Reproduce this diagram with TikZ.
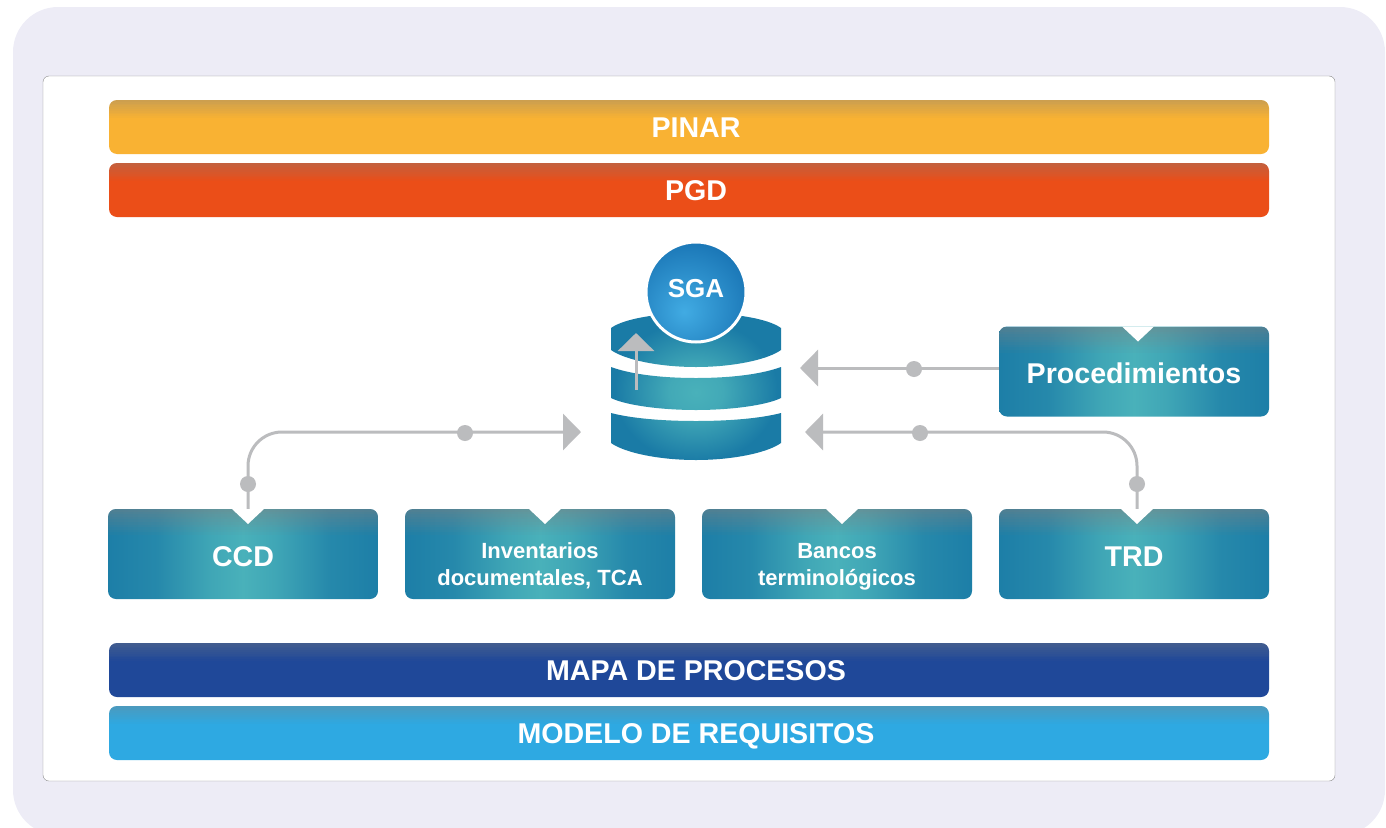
\documentclass[tikz,border=0pt]{standalone}
\usepackage{fontspec}
\setmainfont{Liberation Sans}
\usetikzlibrary{arrows.meta}

\definecolor{framecolor}{HTML}{EDECF6}
\definecolor{linecolor}{HTML}{BBBCBE}
\definecolor{pinarcolor}{HTML}{F9B233}
\definecolor{pgdcolor}{HTML}{EB4E18}
\definecolor{mapacolor}{HTML}{1F4899}
\definecolor{modelocolor}{HTML}{2EA9E2}
\definecolor{glowlight}{HTML}{49B1BA}
\definecolor{glowdark}{HTML}{1A7BA6}
\definecolor{sgalight}{HTML}{41ABE3}
\definecolor{sgadark}{HTML}{0F67A9}

\pgfdeclarehorizontalshading{tealglow}{100bp}{color(0bp)=(glowdark!90!glowlight); color(10bp)=(glowdark); color(22bp)=(glowdark); color(34bp)=(glowdark!75!glowlight); color(44bp)=(glowlight!80!glowdark); color(50bp)=(glowlight); color(56bp)=(glowlight!80!glowdark); color(66bp)=(glowdark!75!glowlight); color(78bp)=(glowdark); color(90bp)=(glowdark); color(100bp)=(glowdark!90!glowlight)}
\pgfdeclareradialshading{dbglow}{\pgfpoint{0bp}{-2bp}}{color(0bp)=(glowlight); color(8bp)=(glowlight!85!glowdark); color(24bp)=(glowdark); color(100bp)=(glowdark)}
\pgfdeclareradialshading{sgaglow}{\pgfpoint{-6bp}{-10bp}}{color(0bp)=(sgalight); color(42bp)=(sgadark); color(100bp)=(sgadark)}

% grey strips, fading out from the top edge of a box
\newcommand{\topsheen}[2]{
    \foreach \i [evaluate=\i as \op using {#1*(1-\i/10)}] in {0,...,9} {
        \fill[gray, sharp corners, opacity=\op] ([yshift=-\i*#2 pt]path picture bounding box.north west) rectangle ([yshift=-\i*#2 pt-#2 pt]path picture bounding box.north east);
    }
}

\tikzset{
    barbox/.style={minimum width=1160pt, minimum height=54pt, inner sep=0pt, rounded corners=8pt, text=white,
        text height=20.5pt, text depth=0.5pt, execute at begin node={\hspace*{14pt}},
        font=\bfseries\fontsize{28.6}{32}\selectfont,
        path picture={\topsheen{.36}{1.8}}},
    tealbox/.style={minimum width=270pt, minimum height=90pt, inner sep=0pt, rounded corners=8pt, text=white, align=center,
        text height=24pt, text depth=0pt,
        shade, shading=tealglow, font=\bfseries\fontsize{28.6}{32}\selectfont,
        path picture={
            \topsheen{.5}{2.6}
            \fill[white, sharp corners] ([xshift=#1pt-16pt]path picture bounding box.north) -- ([xshift=#1pt,yshift=-15pt]path picture bounding box.north) -- ([xshift=#1pt+16pt]path picture bounding box.north) -- cycle;}},
    tealbox/.default=5,
    smalltext/.style={text height=67pt, text depth=5pt, font=\bfseries\fontsize{22}{27}\selectfont},
    conn/.style={draw=linecolor, line width=3pt, -{Triangle[width=36pt,length=18pt]}},
    dot/.style={circle, fill=linecolor, minimum size=16pt, inner sep=0pt}
}

\begin{document}
\begin{tikzpicture}[x=1pt,y=-1pt]
    \useasboundingbox (0,0) rectangle (1386,827);

    % frame
    \fill[framecolor, rounded corners=45pt] (13,7) rectangle (1385,835);
    \draw[gray!90, fill=white, rounded corners=6pt] (43,76) rectangle (1335,781);

    % bars
    \node[barbox, fill=pinarcolor] (pinar) at (689,127) {PINAR};
    \node[barbox, fill=pgdcolor] (pgd) at (689,190) {PGD};
    \node[barbox, fill=mapacolor] (mapa) at (689,670) {MAPA DE PROCESOS};
    \node[barbox, fill=modelocolor] (modelo) at (689,733) {MODELO DE REQUISITOS};

    % boxes
    \node[tealbox] (ccd) at (243,554) {CCD};
    \node[tealbox, smalltext] (inv) at (540,554) {Inventarios\\documentales, TCA};
    \node[tealbox, smalltext] (bancos) at (837,554) {Bancos\\terminológicos};
    \node[tealbox=3] (trd) at (1134,554) {TRD};
    \node[tealbox=4] (proc) at (1134,371.5) {Procedimientos};

    % database
    \shade[shading=dbglow]
        (611,328) .. controls (625,318) and (660,313) .. (696,313) .. controls (732,313) and (767,318) .. (781,328)
            -- (781,350) .. controls (767,360) and (732,367) .. (696,367) .. controls (660,367) and (625,360) .. (611,350) -- cycle
        (611,367) .. controls (630,374) and (660,378) .. (696,378) .. controls (732,378) and (762,374) .. (781,367)
            -- (781,398) .. controls (767,405) and (732,410) .. (696,410) .. controls (660,410) and (625,405) .. (611,398) -- cycle
        (611,413) .. controls (630,418) and (660,421) .. (696,421) .. controls (732,421) and (762,418) .. (781,413)
            -- (781,443) .. controls (767,453) and (732,460) .. (696,460) .. controls (660,460) and (625,453) .. (611,443) -- cycle;
    \node[circle, draw=white, line width=3pt, minimum size=100pt, inner sep=0pt, shade, shading=sgaglow, text=white,
        text height=18.6pt, text depth=8pt, font=\bfseries\fontsize{26}{30}\selectfont] (sga) at (696,292) {SGA};

    \coordinate (dbproc) at (800,368);
    \coordinate (dbtrd) at (805,432);
    \coordinate (dbccd) at (581,432);
    \coordinate (uptail) at (636,390);
    \coordinate (uphead) at (636,333);

    % connectors
    \draw[conn] (proc.west |- dbproc) -- (dbproc);
    \draw[conn, rounded corners=34pt] ([xshift=3pt]trd.north) |- (dbtrd);
    \draw[conn, rounded corners=34pt] ([xshift=5pt]ccd.north) |- (dbccd);
    \draw[conn] (uptail) -- (uphead);

    \node[dot] (dotproc) at (914,369) {};
    \node[dot] (dottrda) at (920,433) {};
    \node[dot] (dottrdb) at (1137,484) {};
    \node[dot] (dotccda) at (465,433) {};
    \node[dot] (dotccdb) at (248,484) {};
\end{tikzpicture}
\end{document}
